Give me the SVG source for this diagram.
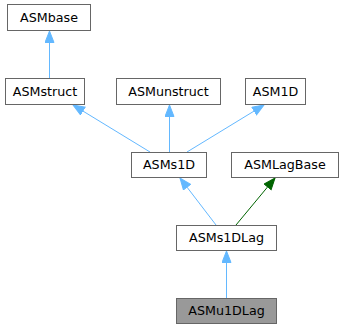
<svg xmlns="http://www.w3.org/2000/svg" width="344" height="329" viewBox="0 0 344 329">
<style>
.box rect{fill:#ffffff;stroke:#666666;stroke-width:1}
.box text{font-family:"DejaVu Sans",sans-serif;font-size:12.7px;fill:#000;text-anchor:middle}
#ASMu1DLag rect{fill:#999999;stroke:#666666}
.e{fill:none;stroke:#63b8ff;stroke-width:1}
.g{stroke:#006400}
</style>
<defs>
<marker id="ab" markerUnits="userSpaceOnUse" markerWidth="13" markerHeight="11" refX="12" refY="5" orient="auto"><path d="M0.5,0.5 L12,5 L0.5,9.5 z" fill="#63b8ff" stroke="#63b8ff"/></marker>
<marker id="ag" markerUnits="userSpaceOnUse" markerWidth="13" markerHeight="11" refX="12" refY="5" orient="auto"><path d="M0.5,0.5 L12,5 L0.5,9.5 z" fill="#006400" stroke="#006400"/></marker>
</defs>
<g id="edges">
<path class="e" d="M49.5,79 L49.5,31" marker-end="url(#ab)"/>
<path class="e" d="M150,152 L73,105" marker-end="url(#ab)"/>
<path class="e" d="M169.5,152 L169.5,105" marker-end="url(#ab)"/>
<path class="e" d="M187,152 L264,105" marker-end="url(#ab)"/>
<path class="e" d="M216,225 L180,178" marker-end="url(#ab)"/>
<path class="e g" d="M236,225 L275,178" marker-end="url(#ag)"/>
<path class="e" d="M226.5,298 L226.5,251" marker-end="url(#ab)"/>
</g>
<g id="ASMbase" class="box"><rect x="7.5" y="4.5" width="83" height="26"/><text x="49" y="22">ASMbase</text></g>
<g id="ASMstruct" class="box"><rect x="5.5" y="78.5" width="79" height="26"/><text x="45" y="96">ASMstruct</text></g>
<g id="ASMunstruct" class="box"><rect x="116.5" y="78.5" width="104" height="26"/><text x="168.5" y="96">ASMunstruct</text></g>
<g id="ASM1D" class="box"><rect x="245.5" y="78.5" width="60" height="26"/><text x="275.5" y="96">ASM1D</text></g>
<g id="ASMs1D" class="box"><rect x="131.5" y="152.5" width="75" height="25"/><text x="169" y="169">ASMs1D</text></g>
<g id="ASMLagBase" class="box"><rect x="231.5" y="152.5" width="107" height="25"/><text x="285" y="169">ASMLagBase</text></g>
<g id="ASMs1DLag" class="box"><rect x="176.5" y="225.5" width="100" height="25"/><text x="226.5" y="242">ASMs1DLag</text></g>
<g id="ASMu1DLag" class="box"><rect x="176.5" y="298.5" width="100" height="25"/><text x="226.5" y="315">ASMu1DLag</text></g>
</svg>
